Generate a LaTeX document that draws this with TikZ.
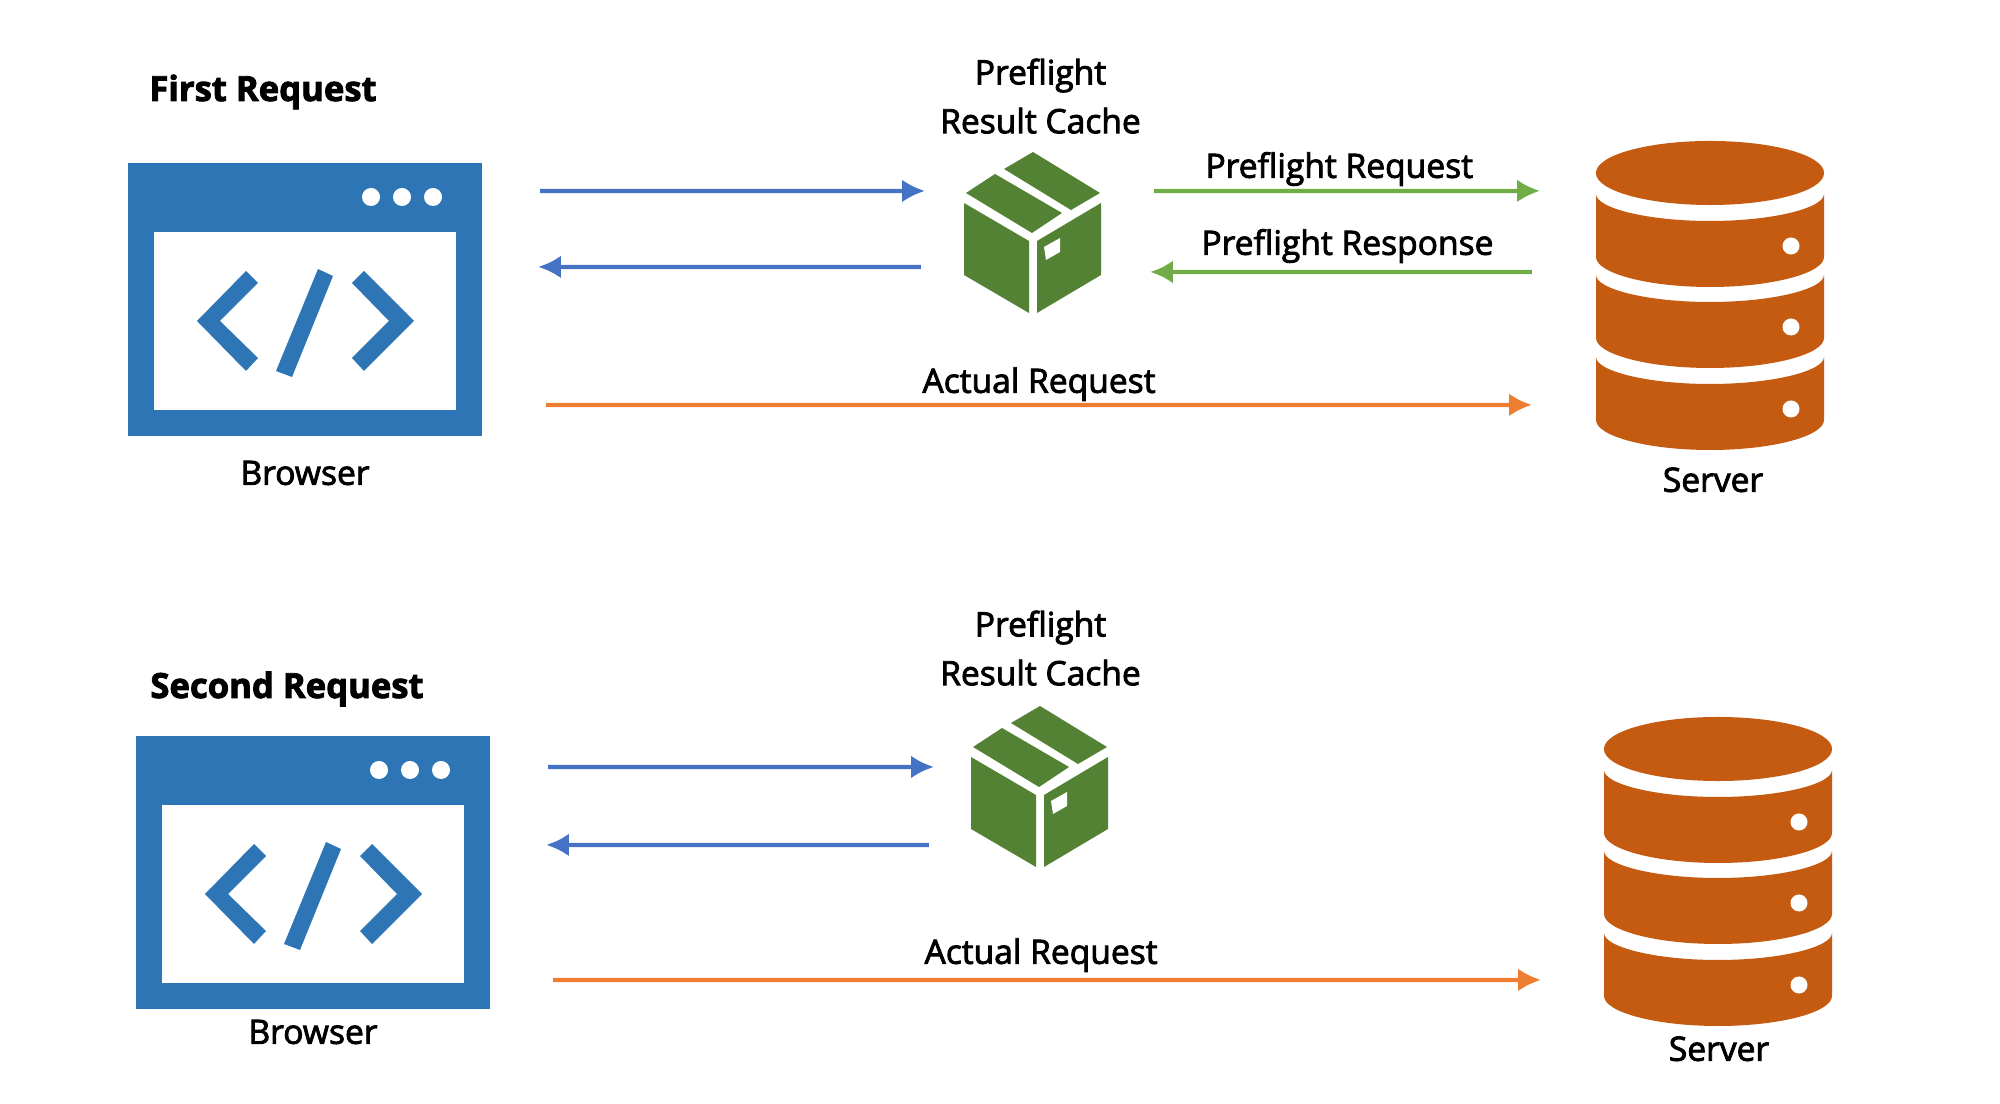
\documentclass[tikz,border=0pt]{standalone}
\usepackage{fontspec}
\setmainfont{Open Sans}[FakeBold=2.5]
\usepackage{xcolor}
\usetikzlibrary{arrows.meta, positioning}

\definecolor{browserblue}{HTML}{2E75B6}
\definecolor{boxgreen}{HTML}{548235}
\definecolor{serverorange}{HTML}{C55A11}
\definecolor{lineblue}{HTML}{4472C4}
\definecolor{linegreen}{HTML}{70AD47}
\definecolor{lineorange}{HTML}{ED7D31}

\tikzset{
    % browser window icon
    browser/.pic={
        \node[iconbox, minimum width=3.54cm, minimum height=2.73cm] (-box) at (305,299.5) {};
        \fill[browserblue] (128,163) rectangle (482,436);
        \fill[white] (154,232) rectangle (456,410);
        \foreach \dotx in {371,402,433}
            \fill[white] (\dotx,197) circle (0.09cm);
        \fill[browserblue] (197,321) -- (246,271) -- (258,283) -- (220,321) -- (258,358) -- (246,371) -- cycle;
        \fill[browserblue] (318,269) -- (333,276) -- (292,377) -- (276,371) -- cycle;
        \fill[browserblue] (414,321) -- (364,271) -- (352,283) -- (389,321) -- (352,358) -- (364,371) -- cycle;
    },
    % cardboard box icon
    cache/.pic={
        \node[iconbox, minimum width=1.37cm, minimum height=1.61cm] (-box) at (1032.5,232.5) {};
        \fill[boxgreen] (1033,152) -- (1100,193) -- (1071,210) -- (1004,169) -- cycle;
        \fill[boxgreen] (995,174) -- (1062,213) -- (1032,233) -- (966,193) -- cycle;
        \fill[boxgreen] (964,203) -- (1029,241) -- (1029,313) -- (964,275) -- cycle;
        \fill[boxgreen] (1101,203) -- (1037,241) -- (1037,313) -- (1101,275) -- cycle;
        \fill[white] (1044,247) -- (1060,238) -- (1060,252) -- (1046,260) -- cycle;
    },
    % database icon
    server/.pic={
        \node[iconbox, minimum width=2.28cm, minimum height=3.08cm] (-box) at (1710,295) {};
        \fill[serverorange] (1710,173) ellipse (1.14cm and 0.32cm);
        \foreach \bandy in {0,81,163} {
            \fill[serverorange] (1596,194+\bandy) .. controls (1596,208+\bandy) and (1647,221+\bandy) .. (1710,221+\bandy)
                .. controls (1773,221+\bandy) and (1824,208+\bandy) .. (1824,194+\bandy)
                -- (1824,257+\bandy) .. controls (1824,273+\bandy) and (1773,287+\bandy) .. (1710,287+\bandy)
                .. controls (1647,287+\bandy) and (1596,273+\bandy) .. (1596,257+\bandy) -- cycle;
            \fill[white] (1791,246+\bandy) circle (0.085cm);
        }
    },
}

\begin{document}
\begin{tikzpicture}[
    x=0.01cm, y=-0.01cm,
    iconbox/.style={inner sep=0pt, outer sep=0pt},
    lbl/.style={inner sep=0pt, align=center, text=black, text height=0.23cm, text depth=0.07cm, font=\fontsize{9.55}{13.9}\selectfont},
    head/.style={lbl, font=\fontsize{9.85}{13.6}\selectfont\bfseries},
    blueline/.style={-{Latex[length=6.5pt, width=6.5pt]}, lineblue, line width=1.2pt},
    greenline/.style={-{Latex[length=6.5pt, width=6.5pt]}, linegreen, line width=1.2pt},
    orangeline/.style={-{Latex[length=6.5pt, width=6.5pt]}, lineorange, line width=1.2pt}
]
\useasboundingbox (0,0) rectangle (2000,1104);

% First request
\pic (browserA) at (0,0) {browser};
\pic (cacheA) at (0,0) {cache};
\pic (serverA) at (0,0) {server};

\node[head] (titleA) at (263,93) {First Request};
\node[lbl, below=0.25cm of browserA-box] (browserlblA) {Browser};
\node[lbl, below=0.19cm of serverA-box, xshift=0.03cm] (serverlblA) {Server};
\node[lbl, above=0.11cm of cacheA-box, xshift=0.08cm] (cachelblA) {Preflight\\Result Cache};

\draw[blueline] ([shift={(58,28)}]browserA-box.north east) -- ([shift={(-39,39)}]cacheA-box.north west);
\draw[blueline] ([shift={(-43,115)}]cacheA-box.north west) -- ([shift={(56,104)}]browserA-box.north east);
\draw[greenline] ([shift={(53,39)}]cacheA-box.north east) -- node[lbl, above=0.04cm, pos=0.48] (reqlblA) {Preflight Request} ([shift={(-56,50)}]serverA-box.north west);
\draw[greenline] ([shift={(-64,131)}]serverA-box.north west) -- node[lbl, above=0.08cm, pos=0.483] (resplblA) {Preflight Response} ([shift={(49,120)}]cacheA-box.north east);
\draw[orangeline] ([shift={(64,242)}]browserA-box.north east) -- node[lbl, above=0.03cm] (actuallblA) {Actual Request} ([shift={(-64,264)}]serverA-box.north west);

% Second request
\pic (browserB) at (8,573) {browser};
\pic (cacheB) at (7,554) {cache};
\pic (serverB) at (8,576) {server};

\node[head] (titleB) at (287,690) {Second Request};
\node[lbl, below=0.11cm of browserB-box] (browserlblB) {Browser};
\node[lbl, below=0.12cm of serverB-box, xshift=0.01cm] (serverlblB) {Server};
\node[lbl, above=0.13cm of cacheB-box, xshift=0.01cm] (cachelblB) {Preflight\\Result Cache};

\draw[blueline] ([shift={(58,31)}]browserB-box.north east) -- ([shift={(-37,61)}]cacheB-box.north west);
\draw[blueline] ([shift={(-42,139)}]cacheB-box.north west) -- ([shift={(56,109)}]browserB-box.north east);
\draw[orangeline] ([shift={(63,244)}]browserB-box.north east) -- node[lbl, above=0.07cm, pos=0.494] (actuallblB) {Actual Request} ([shift={(-63,263)}]serverB-box.north west);

\end{tikzpicture}
\end{document}
